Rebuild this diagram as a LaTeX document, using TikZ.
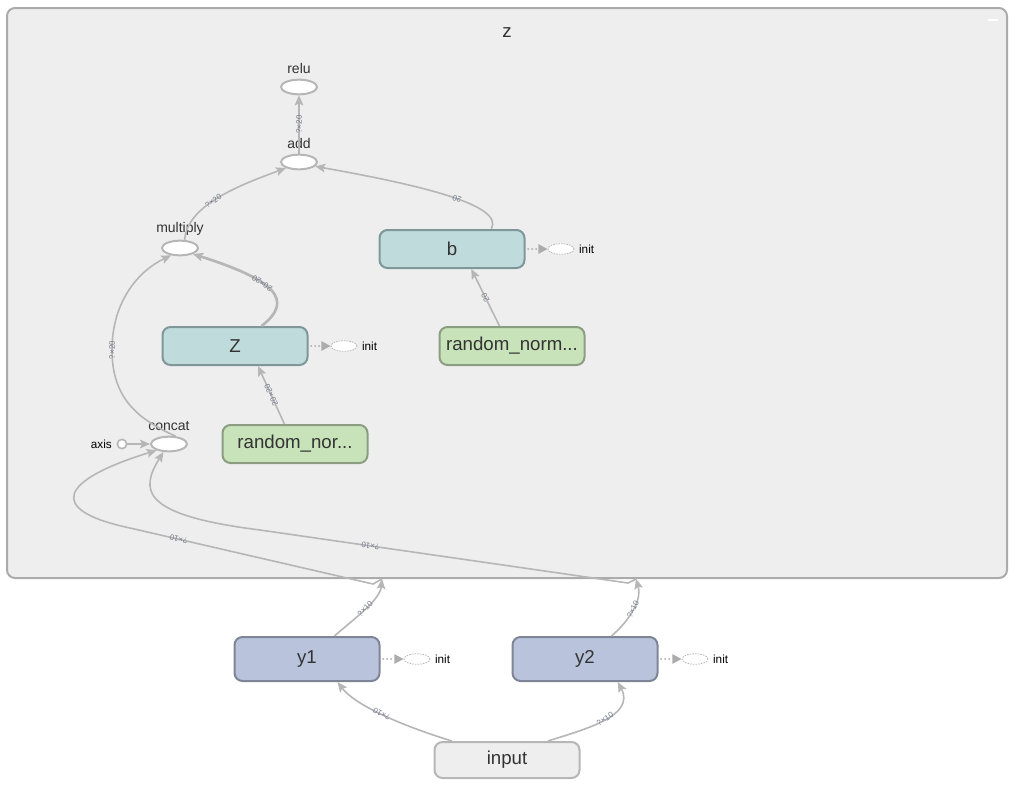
\documentclass[tikz,border=0pt]{standalone}
\usepackage{fontspec}
\setmainfont{Liberation Sans}
\usepackage{xcolor}
\usetikzlibrary{arrows.meta,shapes.geometric}

\definecolor{clfill}{HTML}{EEEEEE}
\definecolor{clline}{HTML}{ABABAB}
\definecolor{edgegray}{HTML}{B6B6B6}
\definecolor{tealfill}{HTML}{BFDBDC}
\definecolor{tealline}{HTML}{7F9798}
\definecolor{greenfill}{HTML}{C8E2B9}
\definecolor{greenline}{HTML}{8B9E82}
\definecolor{bluefill}{HTML}{B9C4DC}
\definecolor{blueline}{HTML}{7E8597}
\definecolor{txt}{HTML}{333333}
\definecolor{lbltxt}{HTML}{747E8E}

\tikzset{
  op/.style={ellipse,draw=edgegray,fill=white,line width=1.5pt,minimum width=27pt,minimum height=11pt,inner sep=0pt,
    label={[text=txt,font=\fontsize{10.5}{12}\selectfont,label distance=0pt]above:#1}},
  axisop/.style={circle,draw=edgegray,fill=white,line width=1.2pt,minimum size=7pt,inner sep=0pt,
    label={[text=black,font=\fontsize{8.8}{10}\selectfont,label distance=0pt]left:axis}},
  var/.style={draw,rounded corners=6pt,line width=1.5pt,minimum width=108.75pt,minimum height=28.5pt,
    text=txt,font=\fontsize{14}{16}\selectfont},
  tealvar/.style={var,fill=tealfill,draw=tealline},
  rand/.style={var,fill=greenfill,draw=greenline},
  yvar/.style={var,fill=bluefill,draw=blueline,minimum height=33pt},
  invar/.style={var,fill=clfill,draw=edgegray,minimum height=27pt},
  initop/.style={ellipse,draw=gray!55,dash pattern=on 1.2pt off 0.8pt,fill=white,line width=0.6pt,
    minimum width=19.5pt,minimum height=8pt,inner sep=0pt,
    label={[text=black,font=\fontsize{8.8}{10}\selectfont,label distance=0pt]right:init}},
  flow/.style={draw=edgegray,line width=1.2pt,->},
  initflow/.style={draw=gray!65,line width=1.5pt,dash pattern=on 0pt off 3pt,line cap=round,
    -{Triangle[length=7pt,width=7pt]},shorten <=2pt},
  elbl/.style={sloped,allow upside down,inner sep=0.5pt,text=lbltxt,font=\fontsize{6}{6.5}\selectfont},
  cluster/.style={draw=clline,fill=clfill,line width=1.5pt,rounded corners=6pt}
}

\begin{document}
\begin{tikzpicture}[x=0.75pt,y=-0.75pt,>={Stealth[length=7.5pt,width=6.5pt,inset=1.5pt]}]
\useasboundingbox (0,0) rectangle (1019,786);
\draw[cluster] (7,8) rectangle (1007,578);
\node[text=txt,font=\fontsize{14}{16}\selectfont] (ztitle) at (507,33) {z};
\draw[white,line width=1.5pt] (988,20) -- (998,20);

\node[op=relu] (relu) at (299,87) {};
\node[op=add] (add) at (299,162) {};
\node[op=multiply] (multiply) at (180,248) {};
\node[op=concat] (concat) at (169,444) {};
\node[axisop] (axis) at (122,444) {};
\node[tealvar] (Z) at (235,346) {Z};
\node[tealvar] (b) at (452,249) {b};
\node[rand] (rnZ) at (295,444) {random\_nor...};
\node[rand] (rnb) at (512,346) {random\_norm...};
\node[yvar] (y1) at (307,659) {y1};
\node[yvar] (y2) at (585,659) {y2};
\node[invar] (input) at (507,760) {input};

\node[initop] (Zinit) at (344,346) {};
\node[initop] (binit) at (561,249) {};
\node[initop] (y1init) at (417,659) {};
\node[initop] (y2init) at (695,659) {};
\coordinate (in1) at (382,579);
\coordinate (in2) at (636,579);

\draw[flow] (add) -- node[elbl]{?×20} (relu);
\draw[flow] (multiply.60) .. controls (187,205) and (240,185) .. node[elbl,pos=0.45]{?×20} (add.205);
\draw[flow] (b.27) .. controls (505,205) and (420,185) .. node[elbl,pos=0.45]{20} (add.-15);
\draw[flow,line width=2pt] (Z.37) .. controls (295,300) and (275,280) .. node[elbl,pos=0.6]{20×20} (multiply.-25);
\draw[flow] (concat.50) .. controls (140,420) and (112,400) .. (112,350) .. controls (112,300) and (140,270) .. node[elbl,pos=0]{?×20} (multiply.220);
\draw[flow] (rnZ.118) -- node[elbl]{20×20} (Z.-41);
\draw[flow] (rnb.122) -- node[elbl]{20} (b.-46);
\draw[flow] (axis) -- (concat);

\draw[initflow] (Z) -- (Zinit);
\draw[initflow] (b) -- (binit);
\draw[initflow] (y1) -- (y1init);
\draw[initflow] (y2) -- (y2init);

\draw[flow] (y1.40) .. controls (355,618) and (380,600) .. node[elbl]{?×10} (in1);
\draw[flow] (y2.41) .. controls (630,620) and (642,600) .. node[elbl]{?×10} (in2);
\draw[flow] (in1) -- (373,584) -- node[elbl,pos=0.8]{?×10} (130,528) .. controls (45,510) and (60,480) .. (concat.207);
\draw[flow] (in2) -- (628,583) -- node[elbl,pos=0.7]{?×10} (260,530) .. controls (140,515) and (140,490) .. (concat.235);

\draw[flow] (input.161) .. controls (400,725) and (355,705) .. node[elbl]{?×10} (y1.-37);
\draw[flow] (input.25) .. controls (590,728) and (635,715) .. node[elbl]{?×10} (y2.-35);
\end{tikzpicture}
\end{document}
